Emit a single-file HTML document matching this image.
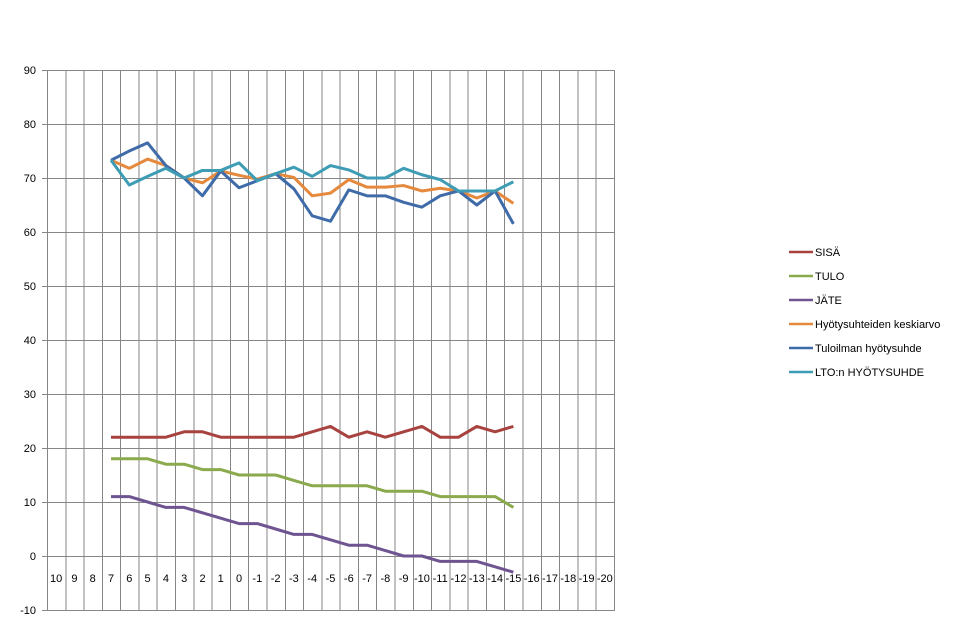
<!DOCTYPE html>
<html><head><meta charset="utf-8"><style>
body{margin:0;background:#fff;}
svg text{font-family:"Liberation Sans",Arial,sans-serif;font-size:11px;fill:#000;}
</style></head><body>
<svg width="955" height="626" xmlns="http://www.w3.org/2000/svg">
<g stroke="#868686" stroke-width="1" shape-rendering="crispEdges">
<line x1="47" y1="70.5" x2="614" y2="70.5"/><line x1="47" y1="124.5" x2="614" y2="124.5"/><line x1="47" y1="178.5" x2="614" y2="178.5"/><line x1="47" y1="232.5" x2="614" y2="232.5"/><line x1="47" y1="286.5" x2="614" y2="286.5"/><line x1="47" y1="340.5" x2="614" y2="340.5"/><line x1="47" y1="394.5" x2="614" y2="394.5"/><line x1="47" y1="448.5" x2="614" y2="448.5"/><line x1="47" y1="502.5" x2="614" y2="502.5"/><line x1="47" y1="556.5" x2="614" y2="556.5"/><line x1="47" y1="610.5" x2="614" y2="610.5"/>
<line x1="42" y1="70.5" x2="47" y2="70.5"/><line x1="42" y1="124.5" x2="47" y2="124.5"/><line x1="42" y1="178.5" x2="47" y2="178.5"/><line x1="42" y1="232.5" x2="47" y2="232.5"/><line x1="42" y1="286.5" x2="47" y2="286.5"/><line x1="42" y1="340.5" x2="47" y2="340.5"/><line x1="42" y1="394.5" x2="47" y2="394.5"/><line x1="42" y1="448.5" x2="47" y2="448.5"/><line x1="42" y1="502.5" x2="47" y2="502.5"/><line x1="42" y1="556.5" x2="47" y2="556.5"/><line x1="42" y1="610.5" x2="47" y2="610.5"/>
<path d="M47.5 70V611M65.8 70V611M84.1 70V611M102.4 70V611M120.7 70V611M139 70V611M157.2 70V611M175.5 70V611M193.8 70V611M212.1 70V611M230.4 70V611M248.7 70V611M267 70V611M285.3 70V611M303.6 70V611M321.8 70V611M340.1 70V611M358.4 70V611M376.7 70V611M395 70V611M413.3 70V611M431.6 70V611M449.9 70V611M468.2 70V611M486.5 70V611M504.7 70V611M523 70V611M541.3 70V611M559.6 70V611M577.9 70V611M596.2 70V611M614.5 70V611"/>
</g>
<g text-anchor="end">
<text x="36" y="74">90</text><text x="36" y="128">80</text><text x="36" y="182">70</text><text x="36" y="236">60</text><text x="36" y="290">50</text><text x="36" y="344">40</text><text x="36" y="398">30</text><text x="36" y="452">20</text><text x="36" y="506">10</text><text x="36" y="560">0</text><text x="36" y="614">-10</text>
</g>
<g text-anchor="middle">
<text x="56.1" y="582">10</text><text x="74.4" y="582">9</text><text x="92.7" y="582">8</text><text x="111" y="582">7</text><text x="129.3" y="582">6</text><text x="147.6" y="582">5</text><text x="165.9" y="582">4</text><text x="184.2" y="582">3</text><text x="202.5" y="582">2</text><text x="220.7" y="582">1</text><text x="239" y="582">0</text><text x="257.3" y="582">-1</text><text x="275.6" y="582">-2</text><text x="293.9" y="582">-3</text><text x="312.2" y="582">-4</text><text x="330.5" y="582">-5</text><text x="348.8" y="582">-6</text><text x="367.1" y="582">-7</text><text x="385.4" y="582">-8</text><text x="403.6" y="582">-9</text><text x="421.9" y="582">-10</text><text x="440.2" y="582">-11</text><text x="458.5" y="582">-12</text><text x="476.8" y="582">-13</text><text x="495.1" y="582">-14</text><text x="513.4" y="582">-15</text><text x="531.7" y="582">-16</text><text x="550" y="582">-17</text><text x="568.3" y="582">-18</text><text x="586.6" y="582">-19</text><text x="604.8" y="582">-20</text>
</g>
<g transform="translate(111,556) scale(18.29,-5.4)" fill="none" stroke-width="3" stroke-linejoin="round">
<polyline vector-effect="non-scaling-stroke" stroke="#A8423F" points="0,22 1,22 2,22 3,22 4,23 5,23 6,22 7,22 8,22 9,22 10,22 11,23 12,24 13,22 14,23 15,22 16,23 17,24 18,22 19,22 20,24 21,23 22,24"/>
<polyline vector-effect="non-scaling-stroke" stroke="#8BAA4D" points="0,18 1,18 2,18 3,17 4,17 5,16 6,16 7,15 8,15 9,15 10,14 11,13 12,13 13,13 14,13 15,12 16,12 17,12 18,11 19,11 20,11 21,11 22,9"/>
<polyline vector-effect="non-scaling-stroke" stroke="#6E5490" points="0,11 1,11 2,10 3,9 4,9 5,8 6,7 7,6 8,6 9,5 10,4 11,4 12,3 13,2 14,2 15,1 16,0 17,0 18,-1 19,-1 20,-1 21,-2 22,-3"/>
<polyline vector-effect="non-scaling-stroke" stroke="#E5893D" points="0,73.3 1,71.8 2,73.5 3,72.3 4,70 5,69.1 6,71.3 7,70.5 8,69.8 9,70.8 10,70.1 11,66.7 12,67.2 13,69.7 14,68.3 15,68.3 16,68.6 17,67.6 18,68.1 19,67.6 20,66.3 21,67.6 22,65.3"/>
<polyline vector-effect="non-scaling-stroke" stroke="#3F6BA8" points="0,73.3 1,75 2,76.5 3,72.3 4,70 5,66.7 6,71.3 7,68.2 8,69.5 9,70.8 10,68 11,63 12,62 13,67.8 14,66.7 15,66.7 16,65.5 17,64.6 18,66.7 19,67.6 20,65 21,67.6 22,61.5"/>
<polyline vector-effect="non-scaling-stroke" stroke="#3E9DB5" points="0,73.3 1,68.7 2,70.3 3,71.8 4,70 5,71.4 6,71.4 7,72.8 8,69.5 9,70.8 10,72 11,70.3 12,72.3 13,71.5 14,70 15,70 16,71.8 17,70.6 18,69.7 19,67.6 20,67.6 21,67.6 22,69.3"/>
</g>
<g stroke-width="2.5">
<line x1="789" y1="252" x2="813" y2="252" stroke="#A8423F"/>
<line x1="789" y1="276" x2="813" y2="276" stroke="#8BAA4D"/>
<line x1="789" y1="300" x2="813" y2="300" stroke="#6E5490"/>
<line x1="789" y1="324" x2="813" y2="324" stroke="#E5893D"/>
<line x1="789" y1="348" x2="813" y2="348" stroke="#3F6BA8"/>
<line x1="789" y1="372" x2="813" y2="372" stroke="#3E9DB5"/>
</g>
<g style="font-size:11.5px">
<text x="815" y="256">SISÄ</text>
<text x="815" y="280">TULO</text>
<text x="815" y="304">JÄTE</text>
<text x="815" y="328">Hyötysuhteiden keskiarvo</text>
<text x="815" y="352">Tuloilman hyötysuhde</text>
<text x="815" y="376">LTO:n HYÖTYSUHDE</text>
</g>
</svg>
</body></html>
